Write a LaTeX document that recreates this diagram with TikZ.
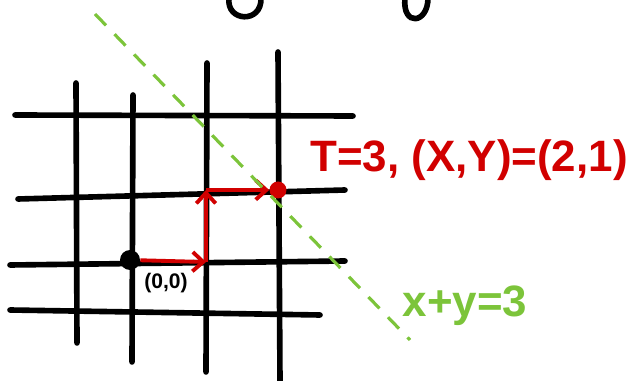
\documentclass[tikz,border=0pt]{standalone}
\usepackage{fontspec}
\setmainfont{Liberation Sans}
\usetikzlibrary{arrows.meta}
\definecolor{inkred}{HTML}{D10000}
\definecolor{inkgreen}{HTML}{7CC43A}
\begin{document}
\begin{tikzpicture}[x=0.02cm, y=-0.02cm, gridline/.style={line width=3.2pt, line cap=round}, walk/.style={inkred, line width=2.2pt, -{Straight Barb[length=6pt, width=11pt]}}, dot/.style={circle, fill, inner sep=0pt, minimum size=0.4cm}, cut/.style={inkgreen, line width=1.8pt, dash pattern=on 9pt off 7pt}]
	\useasboundingbox (0, 0) rectangle (636, 381);
	% grid
	\draw[gridline] (76, 83) -- (77, 343);
	\draw[gridline] (133, 95) -- (132, 362);
	\draw[gridline] (207, 63) -- (206, 372);
	\draw[gridline] (278, 52) -- (280, 381);
	\draw[gridline] (15, 115) -- (353, 116);
	\draw[gridline] (18, 199) -- (345, 190);
	\draw[gridline] (10, 265) -- (345, 261);
	\draw[gridline] (10, 310) -- (320, 315);
	% cut off marks at the top
	\draw[gridline] (229, -2) .. controls (226, 22) and (262, 24) .. (261, -2);
	\draw[gridline] (405, -2) .. controls (402, 27) and (428, 24) .. (428, -2);
	% nodes
	\node[dot] (o) at (130, 260) {};
	\node[dot, inkred, minimum size=0.34cm] (p) at (278, 190) {};
	\coordinate (a) at (206, 262);
	\coordinate (b) at (206, 190);
	\coordinate (c1) at (95, 14);
	\coordinate (c2) at (410, 340);
	\node[font=\bfseries\fontsize{12}{12}\selectfont] (olabel) at (166, 283) {(0,0)};
	\node[inkred, font=\bfseries\fontsize{25}{25}\selectfont] (state) at (469, 160) {T=3, (X,Y)=(2,1)};
	\node[inkgreen, font=\bfseries\fontsize{25}{25}\selectfont] (sum) at (465, 306) {x+y=3};
	% walk
	\draw[walk] (o) -- (a);
	\draw[walk] (a) -- (b);
	\draw[walk] (b) -- (p);
	\draw[cut] (c1) -- (c2);
\end{tikzpicture}
\end{document}
